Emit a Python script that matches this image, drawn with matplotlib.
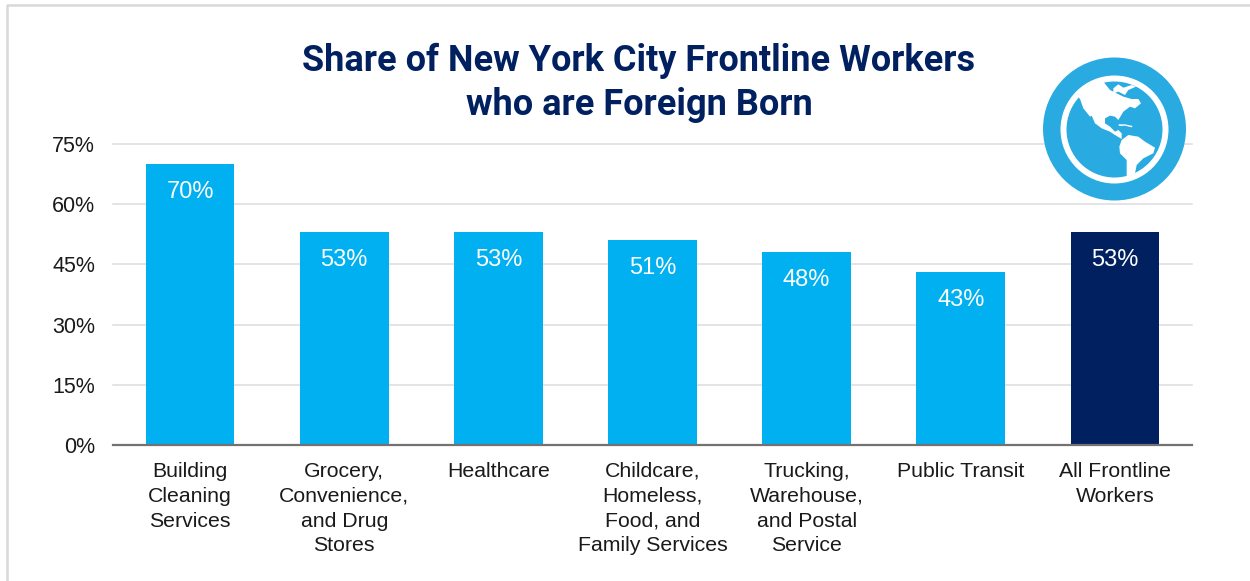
import matplotlib
matplotlib.use('Agg')
from matplotlib import pyplot as plt
from matplotlib.patches import Circle, Polygon

categories = ['Building\nCleaning\nServices', 'Grocery,\nConvenience,\nand Drug\nStores', 'Healthcare',
              'Childcare,\nHomeless,\nFood, and\nFamily Services', 'Trucking,\nWarehouse,\nand Postal\nService',
              'Public Transit', 'All Frontline\nWorkers']
values = [70, 53, 53, 51, 48, 43, 53]
bar_colors = ['#00B0F0'] * 6 + ['#002060']
y_ticks = [0, 15, 30, 45, 60, 75]

W, H = 1250, 581
plt.rcParams['font.family'] = ['Liberation Sans', 'DejaVu Sans']

fig = plt.figure(figsize=(W / 100, H / 100), dpi=100)
ax = fig.add_axes([113 / W, 1 - 445 / H, (1192 - 113) / W, 301 / H])

ax.bar(range(7), values, width=0.575, color=bar_colors, zorder=2)
for i, v in enumerate(values):
    ax.annotate(f'{v}%', (i, v), xytext=(0, -19.8), textcoords='offset points', ha='center', va='center',
                color='white', fontsize=17, zorder=3)

ax.set_xlim(-0.5, 6.5)
ax.set_ylim(0, 75)
ax.set_yticks(y_ticks)
ax.set_yticklabels([f'{t}%' for t in y_ticks], fontsize=15.5, color='#1a1a1a')
ax.set_xticks(range(7))
ax.set_xticklabels(categories, fontsize=15.3, color='#1a1a1a', linespacing=1.39)
ax.tick_params(axis='both', length=0)
ax.tick_params(axis='y', pad=13)
ax.tick_params(axis='x', pad=12.2)
ax.grid(axis='y', color='#DCDCDC', linewidth=1.1, zorder=0, clip_on=False)
ax.set_axisbelow(True)
for s in ['top', 'right', 'left']:
    ax.spines[s].set_visible(False)
ax.spines['bottom'].set_color('#767171')
ax.spines['bottom'].set_linewidth(1.6)

fig.text(639 / W, 1 - 83 / H, 'Share of New York City Frontline Workers\nwho are Foreign Born', ha='center', va='center',
         fontsize=26, fontweight='bold', color='#002060', linespacing=1.3, family=['Roboto', 'Liberation Sans'])

# outer frame
over = fig.add_axes([0, 0, 1, 1], facecolor='none')
over.set_xlim(0, W)
over.set_ylim(H, 0)
over.axis('off')
over.plot([7, 7, W], [H, 5, 5], color='#D9D9D9', linewidth=1.8)

# globe icon, outlines traced in a 108 px crop scaled 3x, offset to the icon spot
blue = '#29ABE2'
over.add_patch(Circle((1114.5, 129), 71.5, color=blue, lw=0))
over.add_patch(Circle((1114.5, 129.5), 54, color='white', lw=0))
over.add_patch(Circle((1114.5, 129.5), 48, color=blue, lw=0))
north_america = [(60, 72), (50, 60), (100, 25), (130, 20), (150, 45), (190, 65), (215, 72), (235, 72), (243, 85),
                 (225, 100), (210, 95), (190, 110), (175, 135), (165, 125), (150, 122), (135, 130), (135, 145),
                 (150, 155), (165, 170), (175, 165), (185, 175), (185, 192), (165, 180), (150, 170), (125, 160),
                 (105, 145), (95, 122), (90, 125), (70, 100)]
greenland = [(160, 40), (175, 28), (190, 38), (215, 30), (228, 35), (205, 45), (195, 60), (175, 50), (160, 55)]
cuba = [(175, 148), (195, 148), (218, 153), (215, 157), (195, 152), (178, 153)]
south_america = [(178, 215), (185, 195), (205, 180), (235, 185), (255, 200), (285, 218), (280, 235), (250, 250),
                 (230, 270), (225, 295), (200, 305), (200, 255), (180, 235)]
for shape in [north_america, greenland, cuba, south_america]:
    over.add_patch(Polygon([(1060 + x / 3, 75 + y / 3) for x, y in shape], closed=True, color='white', lw=0))

fig.savefig('out.png', dpi=100)
